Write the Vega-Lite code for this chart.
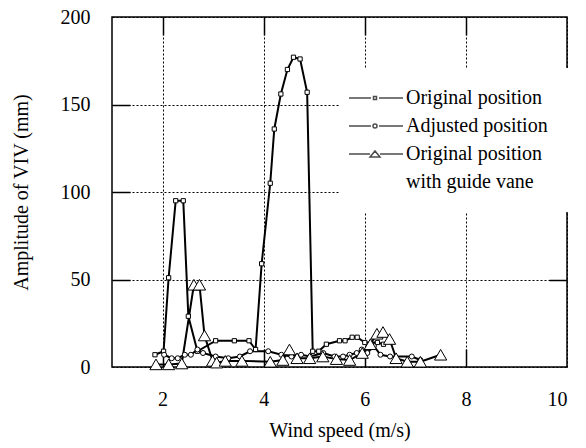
{
  "$schema": "https://vega.github.io/schema/vega-lite/v6.json",
  "width": 455,
  "height": 350,
  "autosize": {"type": "none"},
  "padding": {"left": 112, "top": 17, "right": 19, "bottom": 81},
  "background": "white",
  "config": {
    "view": {"stroke": "black", "strokeWidth": 1.5},
    "font": "Liberation Serif",
    "style": {"guide-label": {"lineHeight": 28}},
    "axis": {
      "labelFont": "Liberation Serif", "titleFont": "Liberation Serif",
      "labelColor": "black", "titleColor": "black", "titleFontWeight": "normal",
      "labelFontSize": 20, "titleFontSize": 20,
      "domain": false, "tickColor": "black", "tickWidth": 1.5, "tickSize": 18,
      "gridColor": "black", "gridDash": [2, 2], "gridOpacity": 1, "gridWidth": 1
    }
  },
  "datasets": {
    "viv": [
      {"series": "Original position", "speed": 1.85, "amp": 7},
      {"series": "Original position", "speed": 2.02, "amp": 9},
      {"series": "Original position", "speed": 2.12, "amp": 51},
      {"series": "Original position", "speed": 2.26, "amp": 95},
      {"series": "Original position", "speed": 2.41, "amp": 95},
      {"series": "Original position", "speed": 2.51, "amp": 29},
      {"series": "Original position", "speed": 2.69, "amp": 9},
      {"series": "Original position", "speed": 3.05, "amp": 15},
      {"series": "Original position", "speed": 3.42, "amp": 15},
      {"series": "Original position", "speed": 3.71, "amp": 15},
      {"series": "Original position", "speed": 3.84, "amp": 10},
      {"series": "Original position", "speed": 3.96, "amp": 59},
      {"series": "Original position", "speed": 4.13, "amp": 105},
      {"series": "Original position", "speed": 4.21, "amp": 136},
      {"series": "Original position", "speed": 4.34, "amp": 156},
      {"series": "Original position", "speed": 4.47, "amp": 170},
      {"series": "Original position", "speed": 4.59, "amp": 177},
      {"series": "Original position", "speed": 4.72, "amp": 176},
      {"series": "Original position", "speed": 4.86, "amp": 157},
      {"series": "Original position", "speed": 4.97, "amp": 9},
      {"series": "Original position", "speed": 5.09, "amp": 9},
      {"series": "Original position", "speed": 5.24, "amp": 13},
      {"series": "Original position", "speed": 5.5, "amp": 15},
      {"series": "Original position", "speed": 5.61, "amp": 15},
      {"series": "Original position", "speed": 5.75, "amp": 17},
      {"series": "Original position", "speed": 5.85, "amp": 17},
      {"series": "Original position", "speed": 6.0, "amp": 14},
      {"series": "Original position", "speed": 6.25, "amp": 14},
      {"series": "Original position", "speed": 6.37, "amp": 13},
      {"series": "Adjusted position", "speed": 2.03, "amp": 7},
      {"series": "Adjusted position", "speed": 2.18, "amp": 5},
      {"series": "Adjusted position", "speed": 2.3, "amp": 5},
      {"series": "Adjusted position", "speed": 2.44, "amp": 7},
      {"series": "Adjusted position", "speed": 2.56, "amp": 7},
      {"series": "Adjusted position", "speed": 2.69, "amp": 10},
      {"series": "Adjusted position", "speed": 2.8, "amp": 8},
      {"series": "Adjusted position", "speed": 3.05, "amp": 6},
      {"series": "Adjusted position", "speed": 3.3, "amp": 5},
      {"series": "Adjusted position", "speed": 3.53, "amp": 6},
      {"series": "Adjusted position", "speed": 3.73, "amp": 9},
      {"series": "Adjusted position", "speed": 4.09, "amp": 9},
      {"series": "Adjusted position", "speed": 4.35, "amp": 7},
      {"series": "Adjusted position", "speed": 4.55, "amp": 6},
      {"series": "Adjusted position", "speed": 4.74, "amp": 7},
      {"series": "Adjusted position", "speed": 4.92, "amp": 6},
      {"series": "Adjusted position", "speed": 5.18, "amp": 8},
      {"series": "Adjusted position", "speed": 5.4, "amp": 6},
      {"series": "Adjusted position", "speed": 5.57, "amp": 6},
      {"series": "Adjusted position", "speed": 5.7, "amp": 7},
      {"series": "Adjusted position", "speed": 5.84, "amp": 8},
      {"series": "Adjusted position", "speed": 5.94, "amp": 10},
      {"series": "Adjusted position", "speed": 6.05, "amp": 8},
      {"series": "Adjusted position", "speed": 6.18, "amp": 12},
      {"series": "Adjusted position", "speed": 6.31, "amp": 7},
      {"series": "Adjusted position", "speed": 6.5, "amp": 6},
      {"series": "Adjusted position", "speed": 6.93, "amp": 6},
      {"series": "Adjusted position", "speed": 7.1, "amp": 4},
      {"series": "Original position with guide vane", "speed": 1.87, "amp": 1.5},
      {"series": "Original position with guide vane", "speed": 2.12, "amp": 1.5},
      {"series": "Original position with guide vane", "speed": 2.38, "amp": 2},
      {"series": "Original position with guide vane", "speed": 2.62, "amp": 47},
      {"series": "Original position with guide vane", "speed": 2.73, "amp": 47},
      {"series": "Original position with guide vane", "speed": 2.83, "amp": 18},
      {"series": "Original position with guide vane", "speed": 2.99, "amp": 3.5},
      {"series": "Original position with guide vane", "speed": 3.07, "amp": 2.5},
      {"series": "Original position with guide vane", "speed": 3.24, "amp": 3.5},
      {"series": "Original position with guide vane", "speed": 3.57, "amp": 3.5},
      {"series": "Original position with guide vane", "speed": 4.13, "amp": 3},
      {"series": "Original position with guide vane", "speed": 4.38, "amp": 4},
      {"series": "Original position with guide vane", "speed": 4.51, "amp": 10},
      {"series": "Original position with guide vane", "speed": 4.66, "amp": 5},
      {"series": "Original position with guide vane", "speed": 4.91, "amp": 5},
      {"series": "Original position with guide vane", "speed": 5.17, "amp": 6},
      {"series": "Original position with guide vane", "speed": 5.44, "amp": 4.5},
      {"series": "Original position with guide vane", "speed": 5.7, "amp": 4},
      {"series": "Original position with guide vane", "speed": 5.95, "amp": 8},
      {"series": "Original position with guide vane", "speed": 6.11, "amp": 13},
      {"series": "Original position with guide vane", "speed": 6.24, "amp": 19},
      {"series": "Original position with guide vane", "speed": 6.36, "amp": 20},
      {"series": "Original position with guide vane", "speed": 6.49, "amp": 16},
      {"series": "Original position with guide vane", "speed": 6.62, "amp": 5},
      {"series": "Original position with guide vane", "speed": 6.84, "amp": 3},
      {"series": "Original position with guide vane", "speed": 7.1, "amp": 3},
      {"series": "Original position with guide vane", "speed": 7.5, "amp": 7}
    ]
  },
  "data": {"name": "viv"},
  "layer": [
    {
      "mark": {"type": "line", "color": "black", "strokeWidth": 2},
      "encoding": {
        "x": {"field": "speed", "type": "quantitative", "scale": {"domain": [1, 10], "nice": false},
              "axis": {"orient": "top", "values": [2, 4, 6, 8], "labels": false, "grid": false, "title": null, "offset": -18}},
        "y": {"field": "amp", "type": "quantitative", "scale": {"domain": [0, 200], "nice": false},
              "axis": {"orient": "right", "values": [50, 100, 150], "labels": false, "grid": false, "title": null, "offset": -18}},
        "detail": {"field": "series", "type": "nominal"}
      }
    },
    {
      "transform": [{"filter": "datum.series === 'Original position'"}],
      "mark": {"type": "point", "shape": "square", "filled": true, "fill": "white", "stroke": "black", "strokeWidth": 1, "opacity": 1, "size": 18},
      "encoding": {
        "x": {"field": "speed", "type": "quantitative",
              "axis": {"orient": "bottom", "values": [2, 4, 6, 8, 10], "grid": true, "ticks": false, "title": "Wind speed (m/s)", "labelPadding": 22, "titlePadding": 11}},
        "y": {"field": "amp", "type": "quantitative",
              "axis": {"orient": "left", "values": [0, 50, 100, 150, 200], "grid": true, "ticks": false, "title": "Amplitude of  VIV (mm)", "labelPadding": 22, "titlePadding": 29}}
      }
    },
    {
      "transform": [{"filter": "datum.series === 'Adjusted position'"}],
      "mark": {"type": "point", "shape": "circle", "filled": true, "fill": "white", "stroke": "black", "strokeWidth": 1, "opacity": 1, "size": 25},
      "encoding": {
        "x": {"field": "speed", "type": "quantitative",
              "axis": {"orient": "bottom", "values": [2, 4, 6, 8], "labels": false, "grid": false, "title": null, "offset": -18}},
        "y": {"field": "amp", "type": "quantitative",
              "axis": {"orient": "left", "values": [50, 100, 150], "labels": false, "grid": false, "title": null, "offset": -18}}
      }
    },
    {
      "transform": [{"filter": "datum.series === 'Original position with guide vane'"}],
      "mark": {"type": "point", "shape": "triangle-up", "filled": true, "fill": "white", "stroke": "black", "strokeWidth": 1, "opacity": 1, "size": 150},
      "encoding": {
        "x": {"field": "speed", "type": "quantitative", "axis": null},
        "y": {"field": "amp", "type": "quantitative", "axis": null}
      }
    },
    {
      "mark": {"type": "point", "filled": true, "fill": "white", "stroke": "black", "strokeWidth": 1.5, "size": 0},
      "encoding": {
        "x": {"field": "speed", "type": "quantitative", "axis": null},
        "y": {"field": "amp", "type": "quantitative", "axis": null},
        "shape": {
          "field": "series", "type": "nominal",
          "scale": {"domain": ["Original position", "Adjusted position", "Original position with guide vane"],
                    "range": [
                      "M-4,0H0.4M2,0H6.8M0.9,-0.3H1.5V0.3H0.9Z",
                      "M-4,0H0.4M2,0H6.8M0.8,0A0.4,0.4,0,1,0,1.6,0A0.4,0.4,0,1,0,0.8,0Z",
                      "M-4,0H0.2M2.2,0H6.8M0.2,0.6L1.2,-0.6L2.2,0.6Z"
                    ]},
          "legend": {
            "orient": "none", "legendX": 227, "legendY": 51, "title": null,
            "fillColor": "white", "padding": 20, "rowPadding": 8,
            "labelFont": "Liberation Serif", "labelFontSize": 20, "labelColor": "black",
            "labelOffset": 27, "labelLimit": 400, "symbolSize": 100,
            "labelExpr": "datum.value === 'Original position with guide vane' ? ['Original position', 'with guide vane'] : datum.label"
          }
        }
      }
    }
  ],
  "resolve": {"axis": {"x": "independent", "y": "independent"}}
}
